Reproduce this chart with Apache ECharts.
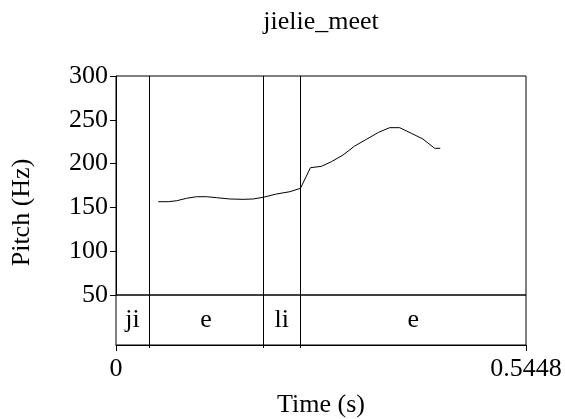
<!DOCTYPE html>
<html><head><meta charset="utf-8">
<script src="https://cdn.jsdelivr.net/npm/echarts@6/dist/echarts.min.js"></script>
<style>html,body{margin:0;padding:0;background:#fff}#c{width:565px;height:419px}</style>
</head><body><div id="c"></div>
<script>
const titleText = 'jielie_meet';
const times = [0.0561,0.0694,0.0806,0.0938,0.1071,0.1204,0.1336,0.1513,0.1689,0.1822,0.1955,0.2133,0.2309,0.2451,0.2584,0.2730,0.2863,0.3017,0.3172,0.3327,0.3490,0.3636,0.3769,0.3924,0.4078,0.4234,0.4309];
const pitch = [156.5,156.5,157.6,160.4,162.2,162.2,161.1,159.6,159.2,159.6,161.5,165.3,167.9,171.8,195.3,196.9,202.2,209.8,220.1,227.7,235.7,241.0,241.0,234.6,228.1,217.5,217.5];
const tierLabels = ['ji','e','li','e'];
const tierStarts = [0, 0.0438, 0.1955, 0.2451];
const tierEnds = [0.0438, 0.1955, 0.2451, 0.5448];
const tMax = 0.5448;
const yTicks = [50, 300, 50]; // min, max, step

const FONT = 'Liberation Serif';
const FS = 26;
const chart = echarts.init(document.getElementById('c'), null, {renderer:'canvas'});
const G = {left:116, width:410};
chart.setOption({
  animation:false,
  title:{text:titleText, left:316, top:4, textAlign:'center',
    textStyle:{fontFamily:FONT, fontSize:FS, fontWeight:'normal', color:'#000'}},
  grid:[
    {left:G.left, width:G.width, top:76, height:219, show:true, borderColor:'#000', borderWidth:1},
    {left:G.left, width:G.width, top:295, height:54, show:true, borderColor:'#000', borderWidth:1},
    {left:G.left, width:G.width, top:76, height:273}
  ],
  xAxis:[
    {gridIndex:0, type:'value', min:0, max:tMax, show:false},
    {gridIndex:1, type:'value', min:0, max:tMax, interval:tMax,
      axisLine:{show:true, lineStyle:{color:'#000', width:1}},
      axisTick:{show:true, length:6, lineStyle:{color:'#000'}},
      axisLabel:{fontFamily:FONT, fontSize:FS, color:'#000', margin:11,
        formatter:v=>String(v)},
      splitLine:{show:false},
      name:'Time (s)', nameLocation:'middle', nameGap:47,
      nameTextStyle:{fontFamily:FONT, fontSize:FS, color:'#000'}},
    {gridIndex:2, type:'value', min:0, max:tMax, show:false}
  ],
  yAxis:[
    {gridIndex:0, type:'value', min:yTicks[0], max:yTicks[1], interval:yTicks[2],
      axisLine:{show:true, lineStyle:{color:'#000', width:1}},
      axisTick:{show:true, length:6, lineStyle:{color:'#000'}},
      axisLabel:{fontFamily:FONT, fontSize:FS, color:'#000', margin:8},
      splitLine:{show:false}},
    {gridIndex:1, type:'value', min:0, max:1, show:false},
    {gridIndex:2, type:'value', min:0, max:1,
      axisLine:{show:false}, axisTick:{show:false}, axisLabel:{show:false}, splitLine:{show:false},
      name:'Pitch (Hz)', nameLocation:'middle', nameGap:81,
      nameTextStyle:{fontFamily:FONT, fontSize:FS, color:'#000'}}
  ],
  series:[
    {type:'line', xAxisIndex:0, yAxisIndex:0, symbol:'none', silent:true,
      data:times.map((t,i)=>[t,pitch[i]]),
      lineStyle:{color:'#000', width:1}},
    {type:'custom', xAxisIndex:2, yAxisIndex:2, silent:true,
      data:tierStarts.slice(1).map(t=>[t]),
      renderItem:(params, api)=>{
        const b = api.coord([api.value(0), 0]);
        const t = api.coord([api.value(0), 1]);
        const x = Math.round(b[0]) + 0.5;
        return {type:'line', shape:{x1:x, y1:b[1]-1, x2:x, y2:t[1]}, style:{stroke:'#000', lineWidth:1}};
      }},
    {type:'custom', xAxisIndex:1, yAxisIndex:1, silent:true,
      data:tierLabels.map((l,i)=>[tierStarts[i], tierEnds[i]]),
      renderItem:(params, api)=>{
        const mid = api.coord([(api.value(0)+api.value(1))/2, 0.5]);
        return {type:'text', style:{text:tierLabels[params.dataIndex], x:mid[0], y:mid[1],
          align:'center', verticalAlign:'middle', font:FS+'px "'+FONT+'"', fill:'#000'}};
      }}
  ]
});
</script></body></html>
